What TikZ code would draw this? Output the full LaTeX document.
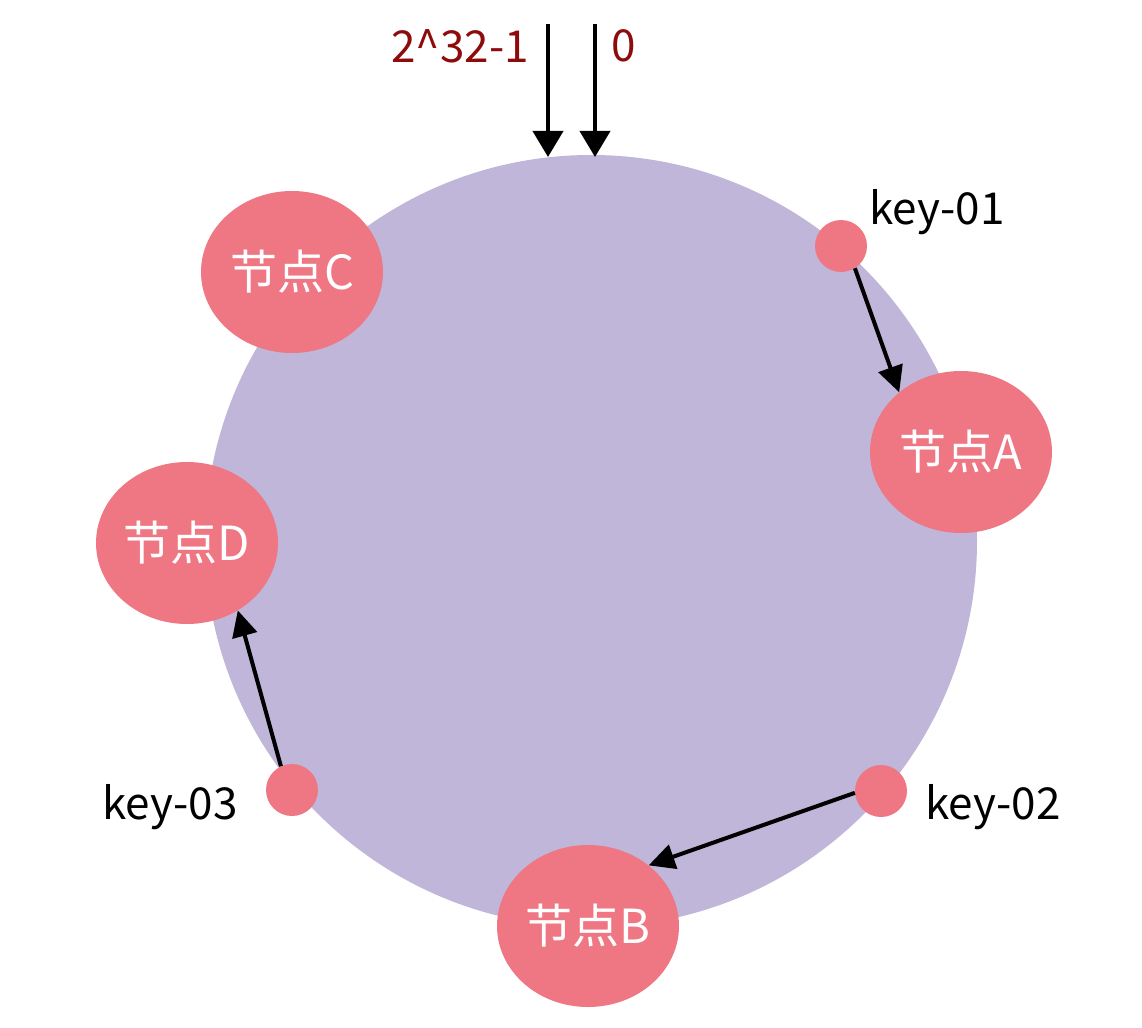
\documentclass[tikz,border=0pt]{standalone}
\usepackage{fontspec}
\setmainfont{Noto Sans CJK SC}
\usetikzlibrary{shapes.geometric,arrows.meta}
\definecolor{ringpurple}{HTML}{BFB6D9}
\definecolor{nodepink}{HTML}{EF7784}
\definecolor{hashred}{HTML}{8E0B0B}

\begin{document}
\begin{tikzpicture}[x=1pt,y=-1pt,
    server/.style={ellipse,fill=nodepink,text=white,minimum width=182pt,minimum height=162pt,inner sep=0pt,font=\fontsize{47}{56}\selectfont},
    keydot/.style={circle,fill=nodepink,minimum size=52pt,inner sep=0pt},
    keylbl/.style={inner sep=0pt,font=\fontsize{44}{52}\selectfont},
    hop/.style={line width=4pt,-{Triangle[length=26pt,width=25pt]}},
    hashin/.style={line width=4pt,-{Triangle[length=26pt,width=30pt]}}]
  \useasboundingbox (0,0) rectangle (1142,1027);
  % hash ring
  \node[circle,fill=ringpurple,minimum size=772pt,inner sep=0pt] (ring) at (591,541) {};
  % ring start / end
  \coordinate (maxin) at (548,24);
  \coordinate (maxat) at (548,157);
  \coordinate (zeroin) at (595,24);
  \coordinate (zeroat) at (595,157);
  \draw[hashin] (maxin) -- (maxat);
  \draw[hashin] (zeroin) -- (zeroat);
  \node[keylbl,text=hashred] (maxlbl) at (460,46) {2\string^32-1};
  \node[keylbl,text=hashred] (zerolbl) at (624,46) {0};
  % servers
  \node[server] (C) at (292,272) {节点C};
  \node[server] (A) at (961,452) {节点A};
  \node[server] (D) at (187,543) {节点D};
  \node[server] (B) at (588,926) {节点B};
  % keys
  \node[keydot] (k1) at (841,246) {};
  \node[keydot] (k2) at (881,791) {};
  \node[keydot] (k3) at (292,790) {};
  \node[keylbl] (k1lbl) at (937,212) {key-01};
  \node[keylbl] (k2lbl) at (993,807) {key-02};
  \node[keylbl] (k3lbl) at (170,807) {key-03};
  % clockwise lookup
  \draw[hop] (k1.-58) -- (A.136);
  \draw[hop] (k2.184) -- (B.45);
  \draw[hop] (k3.115) -- (D.-53);
\end{tikzpicture}
\end{document}
